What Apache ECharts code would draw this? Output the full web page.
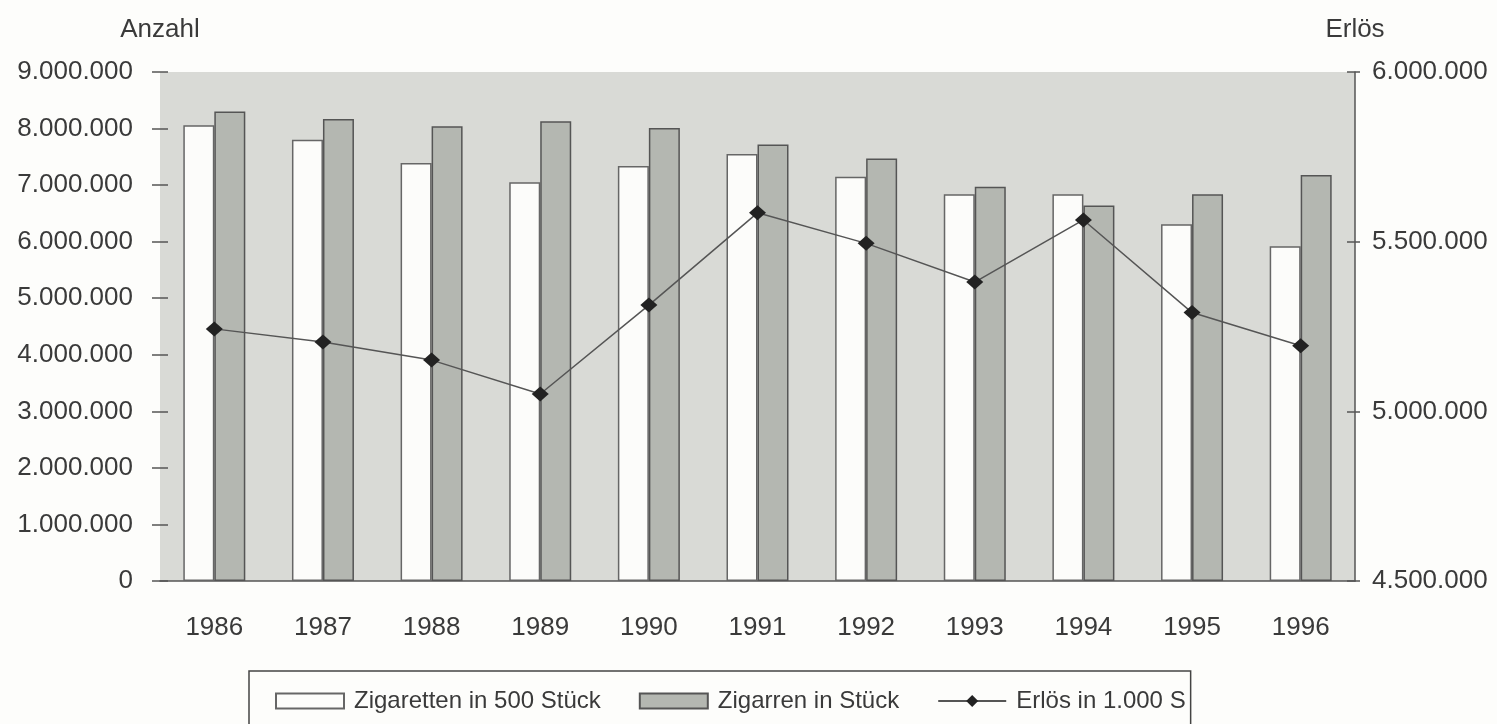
<!DOCTYPE html>
<html>
<head>
<meta charset="utf-8">
<title>Zigaretten, Zigarren, Erlös 1986-1996</title>
<script src="https://cdn.jsdelivr.net/npm/echarts@6/dist/echarts.min.js"></script>
<style>
  html, body { margin: 0; padding: 0; background: #fdfdfb; }
  #chart { width: 1497px; height: 724px; }
</style>
</head>
<body>
<div id="chart"></div>
<script>
var years = ['1986', '1987', '1988', '1989', '1990', '1991', '1992', '1993', '1994', '1995', '1996'];
var zigaretten = [8060000, 7800000, 7390000, 7050000, 7340000, 7550000, 7150000, 6840000, 6840000, 6310000, 5920000];
var zigarren = [8300000, 8170000, 8040000, 8130000, 8010000, 7720000, 7470000, 6970000, 6640000, 6840000, 7180000];
var erloes = [5243000, 5204000, 5151000, 5051000, 5313000, 5585000, 5495000, 5381000, 5564000, 5291000, 5193000];

var seriesNames = ['Zigaretten in 500 Stück', 'Zigarren in Stück', 'Erlös in 1.000 S'];

var fontName = 'Liberation Sans, Arial, Helvetica, sans-serif';
var inkColor = '#3a3a3a';
var lineColor = '#555';

// 8.000.000 style
function punkte(v) {
	return String(v).replace(/\B(?=(\d{3})+(?!\d))/g, '.');
}

var chart = echarts.init(document.getElementById('chart'));
var option = {
	backgroundColor: '#fdfdfb',
	textStyle: { fontFamily: fontName, color: inkColor },
	grid: {
		left: 160, right: 142, top: 72, bottom: 143,
		show: true,
		backgroundColor: '#d9dad6',
		borderWidth: 0
	},
	legend: {
		left: 249, top: 671,
		padding: [18, 5, 40, 26],
		borderColor: '#444',
		borderWidth: 1.5,
		itemWidth: 68,
		itemHeight: 15,
		itemGap: 38,
		textStyle: { fontSize: 24, color: inkColor, fontFamily: fontName, padding: [0, 0, 0, 5] },
		data: [
			{ name: seriesNames[0], icon: 'rect' },
			{ name: seriesNames[1], icon: 'rect' },
			{ name: seriesNames[2] }
		]
	},
	xAxis: [
		{
			type: 'category',
			data: years,
			boundaryGap: true,
			axisLine: { lineStyle: { color: lineColor, width: 1.5 } },
			axisTick: { length: 7, lineStyle: { color: lineColor, width: 1.5 } },
			axisLabel: { fontSize: 26, color: inkColor, margin: 34 },
			splitLine: { show: false }
		},
		{
			// inner half of the crossing ticks
			type: 'category',
			data: years,
			position: 'bottom',
			axisLine: { show: false },
			axisTick: { inside: true, length: 7, lineStyle: { color: lineColor, width: 1.5 } },
			axisLabel: { show: false },
			splitLine: { show: false }
		}
	],
	yAxis: [
		{
			type: 'value',
			name: 'Anzahl',
			nameLocation: 'end',
			nameGap: 29,
			nameTextStyle: { fontSize: 26, color: inkColor },
			min: 0, max: 9000000, interval: 1000000,
			axisLine: { show: false },
			axisTick: { show: true, length: 8, lineStyle: { color: lineColor, width: 1.5 } },
			axisLabel: { fontSize: 26, color: inkColor, margin: 27, formatter: punkte },
			splitLine: { show: false }
		},
		{
			type: 'value',
			name: 'Erlös',
			nameLocation: 'end',
			nameGap: 29,
			nameTextStyle: { fontSize: 26, color: inkColor },
			position: 'right',
			min: 4500000, max: 6000000, interval: 500000,
			axisLine: { show: true, lineStyle: { color: lineColor, width: 1.5 } },
			axisTick: { show: true, length: 5, lineStyle: { color: lineColor, width: 1.5 } },
			axisLabel: { fontSize: 26, color: inkColor, margin: 17, formatter: punkte },
			splitLine: { show: false }
		},
		{
			// inner half of the left ticks
			type: 'value',
			position: 'left',
			min: 0, max: 9000000, interval: 1000000,
			axisLine: { show: false },
			axisTick: { show: true, inside: true, length: 8, lineStyle: { color: lineColor, width: 1.5 } },
			axisLabel: { show: false },
			splitLine: { show: false }
		},
		{
			// inner half of the right ticks
			type: 'value',
			position: 'right',
			min: 4500000, max: 6000000, interval: 500000,
			axisLine: { show: false },
			axisTick: { show: true, inside: true, length: 8, lineStyle: { color: lineColor, width: 1.5 } },
			axisLabel: { show: false },
			splitLine: { show: false }
		}
	],
	series: [
		{
			name: seriesNames[0],
			type: 'bar',
			barWidth: 31,
			barGap: '0%',
			itemStyle: { color: '#fcfcfa', borderColor: '#666', borderWidth: 1.5 },
			data: zigaretten
		},
		{
			name: seriesNames[1],
			type: 'bar',
			barWidth: 31,
			barGap: '0%',
			itemStyle: { color: '#b4b7b1', borderColor: '#555', borderWidth: 1.5 },
			data: zigarren
		},
		{
			name: seriesNames[2],
			type: 'line',
			yAxisIndex: 1,
			symbol: 'diamond',
			symbolSize: [17, 15],
			lineStyle: { color: lineColor, width: 1.5 },
			itemStyle: { color: '#222' },
			data: erloes
		}
	]
};
chart.setOption(option);
</script>
</body>
</html>
